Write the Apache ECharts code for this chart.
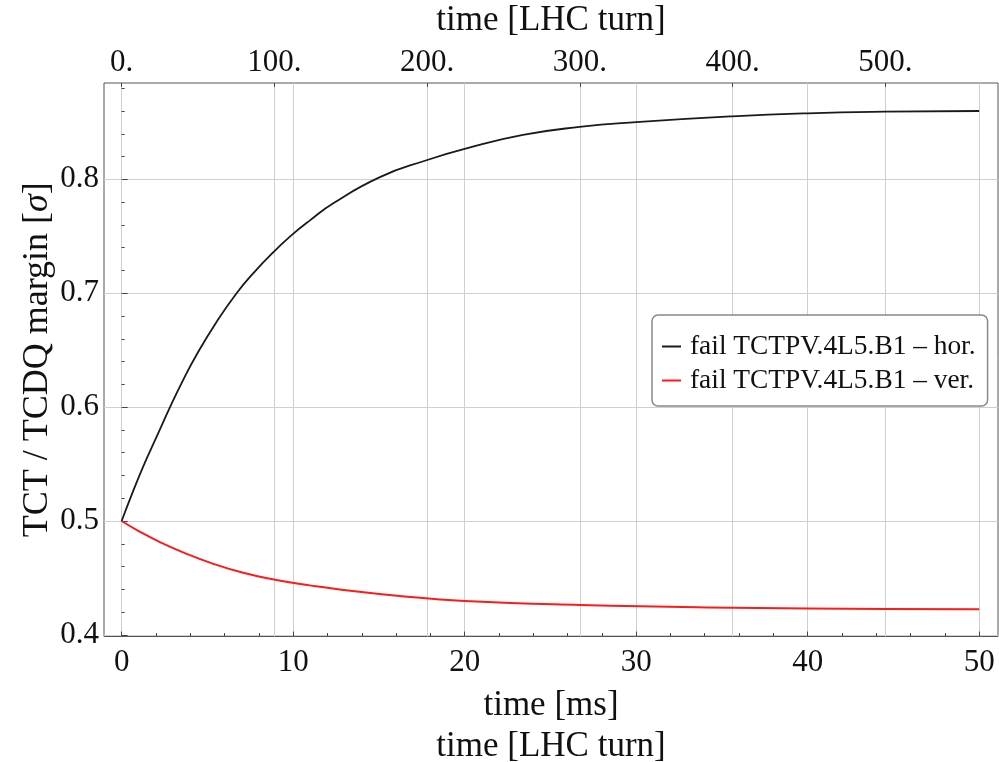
<!DOCTYPE html>
<html><head><meta charset="utf-8">
<script src="https://cdn.jsdelivr.net/npm/echarts@6/dist/echarts.min.js"></script>
<style>html,body{margin:0;padding:0;background:#fff}#c{width:999px;height:762px}</style>
</head><body><div id="c"></div>
<script>
// ---- data ----
const horTime   = [0, 0.48, 1.26, 2.04, 2.82, 3.59, 4.37, 5.54, 6.7, 7.67, 8.84, 9.91, 10.98, 12.34, 15.06, 17.82, 20.06, 23.4, 26.7, 30.0, 35.6, 40.0, 44.5, 50.0];
const horMargin = [0.5, 0.519, 0.548, 0.574, 0.600, 0.624, 0.646, 0.675, 0.700, 0.7175, 0.736, 0.751, 0.764, 0.779, 0.802, 0.817, 0.827, 0.839, 0.846, 0.8502, 0.8553, 0.858, 0.8594, 0.860];
const verTime   = [0, 1.07, 2.23, 3.59, 5.15, 7.09, 8.94, 10.98, 12.92, 16.2, 20.0, 26.7, 35.6, 44.5, 50.0];
const verMargin = [0.5, 0.4905, 0.4815, 0.4725, 0.4635, 0.4545, 0.4485, 0.4435, 0.4395, 0.4342, 0.4298, 0.4263, 0.4239, 0.4227, 0.4225];
const seriesNames = ['fail TCTPV.4L5.B1 \u2013 hor.', 'fail TCTPV.4L5.B1 \u2013 ver.'];

const msTicks = [0, 10, 20, 30, 40, 50];
const msMinorTicks = [2,4,6,8,12,14,16,18,22,24,26,28,32,34,36,38,42,44,46,48];
const turnTicks = [0, 100, 200, 300, 400, 500];
const marginTicks = [0.4, 0.5, 0.6, 0.7, 0.8];
const marginMinorTicks = [0.42,0.44,0.46,0.48,0.52,0.54,0.56,0.58,0.62,0.64,0.66,0.68,0.72,0.74,0.76,0.78,0.82,0.84,0.86,0.88];

const msPerTurn = 0.0890795; // LHC revolution period [ms]
const msMin = -1.03, msMax = 51.1;
const yMin = 0.3986, yMax = 0.8846;

const FONT = 'Liberation Serif';
const tickColor = '#444';
const gridColor = '#cfcfcf';

const zip = (a, b) => a.map((v, i) => [v, b[i]]);

const chart = echarts.init(document.getElementById('c'), null, {renderer: 'canvas'});
chart.setOption({
  animation: false,
  backgroundColor: '#fff',
  grid: {left: 104, top: 83, width: 894, height: 553.5, show: true, borderColor: '#555', borderWidth: 1,
         backgroundColor: 'transparent', containLabel: false, outerBoundsMode: 'none'},
  legend: {
    left: 652, top: 315, orient: 'vertical',
    data: seriesNames,
    icon: 'rect', itemWidth: 19, itemHeight: 2, itemGap: 7,
    padding: [18, 12, 12, 10],
    borderColor: '#888', borderWidth: 1.5, borderRadius: 6,
    backgroundColor: '#fff',
    textStyle: {fontFamily: FONT, fontSize: 27.4, color: '#111', padding: [0, 0, 0, 4]}
  },
  xAxis: [
    {
      type: 'value', position: 'bottom', min: msMin, max: msMax,
      axisLine: {show: false},
      axisTick: {show: true, inside: true, length: 5, customValues: msTicks, lineStyle: {color: tickColor}},
      axisLabel: {customValues: msTicks, fontFamily: FONT, fontSize: 31, color: '#111', margin: 11},
      splitLine: {show: true, lineStyle: {color: gridColor, width: 1}},
      name: 'time [ms]', nameLocation: 'middle', nameGap: 52, nameMoveOverlap: false,
      nameTextStyle: {fontFamily: FONT, fontSize: 35, color: '#111'}
    },
    {
      type: 'value', position: 'bottom', min: msMin, max: msMax,
      axisLine: {show: false},
      axisTick: {show: true, inside: true, length: 3.5, customValues: msMinorTicks, lineStyle: {color: tickColor}},
      axisLabel: {show: false}, splitLine: {show: false}
    },
    {
      type: 'value', position: 'top', min: msMin / msPerTurn, max: msMax / msPerTurn,
      axisLine: {show: false},
      axisTick: {show: true, inside: true, length: 4, customValues: turnTicks, lineStyle: {color: tickColor}},
      axisLabel: {customValues: turnTicks, formatter: v => v + '.', fontFamily: FONT, fontSize: 31, color: '#111', margin: 5},
      splitLine: {show: true, lineStyle: {color: gridColor, width: 1}},
      name: 'time [LHC turn]', nameLocation: 'middle', nameGap: 45, nameMoveOverlap: false,
      nameTextStyle: {fontFamily: FONT, fontSize: 35, color: '#111'}
    },
    {
      type: 'value', position: 'bottom', min: msMin / msPerTurn, max: msMax / msPerTurn,
      axisLine: {show: false}, axisTick: {show: false}, axisLabel: {show: false}, splitLine: {show: false},
      name: 'time [LHC turn]', nameLocation: 'middle', nameGap: 93, nameMoveOverlap: false,
      nameTextStyle: {fontFamily: FONT, fontSize: 35, color: '#111'}
    }
  ],
  yAxis: [
    {
      type: 'value', position: 'left', min: yMin, max: yMax,
      axisLine: {show: false},
      axisTick: {show: true, inside: true, length: 6, customValues: marginTicks, lineStyle: {color: tickColor}},
      axisLabel: {customValues: marginTicks, formatter: v => v.toFixed(1), fontFamily: FONT, fontSize: 31, color: '#111', margin: 5},
      splitLine: {show: true, lineStyle: {color: gridColor, width: 1}},
      name: 'TCT / TCDQ margin [{s|\u03c3}]', nameLocation: 'middle', nameGap: 48, nameRotate: 90, nameMoveOverlap: false,
      nameTextStyle: {fontFamily: FONT, fontSize: 36, color: '#111',
        rich: {s: {fontFamily: FONT, fontSize: 36, fontStyle: 'italic', color: '#111'}}}
    },
    {
      type: 'value', position: 'left', min: yMin, max: yMax,
      axisLine: {show: false},
      axisTick: {show: true, inside: true, length: 3, customValues: marginMinorTicks, lineStyle: {color: tickColor}},
      axisLabel: {show: false}, splitLine: {show: false}
    }
  ],
  series: [
    {
      name: seriesNames[0], type: 'line', xAxisIndex: 0, yAxisIndex: 0,
      data: zip(horTime, horMargin), showSymbol: false, smooth: 0.5,
      lineStyle: {color: '#1a1a1a', width: 1.8}, itemStyle: {color: '#1a1a1a'}, z: 3
    },
    {
      name: seriesNames[1], type: 'line', xAxisIndex: 0, yAxisIndex: 0,
      data: zip(verTime, verMargin), showSymbol: false, smooth: 0.5,
      lineStyle: {color: '#ff1a1a', width: 2}, itemStyle: {color: '#ff1a1a'}, z: 2
    }
  ]
});
</script>
</body></html>
